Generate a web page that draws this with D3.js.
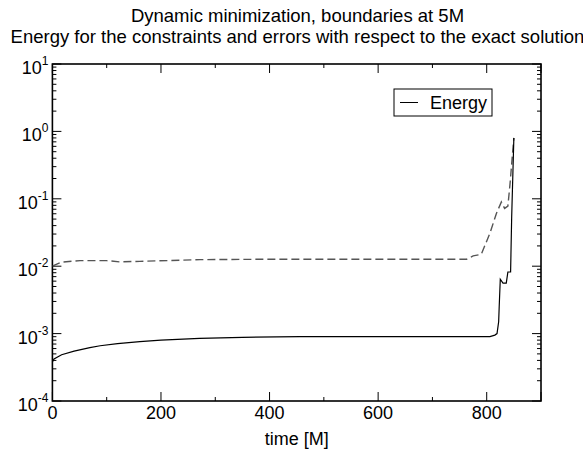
<!DOCTYPE html>
<html>
<head>
<meta charset="utf-8">
<script src="https://cdn.jsdelivr.net/npm/d3@7"></script>
<style>
  body { margin: 0; background: #fff; }
  svg { font-family: "Liberation Sans", Arial, sans-serif; }
</style>
</head>
<body>
<svg id="chart"></svg>
<script>
// Title lines
const titleLines = [
  "Dynamic minimization, boundaries at 5M",
  "Energy for the constraints and errors with respect to the exact solution"
];

// Energy for the constraints (solid)
const energyTime = [0, 3, 17, 40, 69, 88, 120, 161, 200, 271, 350, 456, 600, 700, 806, 815, 819, 822, 823, 825, 830, 836, 839, 844, 846, 850];
const energyValues = [3.8e-4, 4.2e-4, 4.86e-4, 5.5e-4, 6.2e-4, 6.6e-4, 7.1e-4, 7.6e-4, 8.0e-4, 8.5e-4, 8.8e-4, 9.0e-4, 9.0e-4, 9.0e-4, 9.0e-4, 9.5e-4, 1.0e-3, 1.5e-3, 2.5e-3, 6.4e-3, 5.6e-3, 5.6e-3, 8.2e-3, 8.2e-3, 0.054, 0.8];

// Error with respect to the exact solution (dashed)
const errorTime = [0, 5, 17, 51, 100, 124, 161, 272, 400, 600, 763, 775, 790, 806, 818, 827, 833, 839, 843, 847, 850];
const errorValues = [0.0100, 0.0105, 0.0115, 0.0121, 0.0121, 0.0116, 0.0118, 0.0125, 0.0127, 0.0127, 0.0127, 0.0142, 0.015, 0.031, 0.061, 0.090, 0.072, 0.078, 0.168, 0.415, 0.8];

// Axis ticks
const xMajor = [0, 200, 400, 600, 800];
const xMinor = [100, 300, 500, 700];
const yExponents = [1, 0, -1, -2, -3, -4];
const legendLabel = "Energy";
const xLabel = "time [M]";

const width = 583;
const height = 461;
const margin = { top: 64, right: 42, bottom: 60, left: 52.4 };
const innerW = width - margin.left - margin.right;
const innerH = height - margin.top - margin.bottom;

const svg = d3.select("#chart").attr("width", width).attr("height", height);

// Titles
svg.selectAll("text.title")
  .data(titleLines)
  .enter()
  .append("text")
  .attr("class", "title")
  .attr("x", width / 2 + 6)
  .attr("y", (d, i) => 22 + i * 21)
  .attr("text-anchor", "middle")
  .attr("font-size", 18.5)
  .text(d => d);

const g = svg.append("g").attr("transform", `translate(${margin.left},${margin.top})`);

const x = d3.scaleLinear().domain([0, 900]).range([0, innerW]);
const y = d3.scaleLog().domain([1e-4, 10]).range([innerH, 0]);

// Minor log ticks: 2..9 x 10^n
const yMinor = [];
for (let e = -4; e < 1; e++) {
  for (let m = 2; m <= 9; m++) yMinor.push(m * Math.pow(10, e));
}

// Tick marks on all four sides, pointing inward
const tickGroup = g.append("g").attr("stroke", "#000").attr("stroke-width", 1);
[[xMajor.concat([900]), 9], [xMinor, 4]].forEach(([vals, len]) => {
  vals.forEach(v => {
    tickGroup.append("line")
      .attr("x1", x(v)).attr("x2", x(v))
      .attr("y1", innerH).attr("y2", innerH - len);
    tickGroup.append("line")
      .attr("x1", x(v)).attr("x2", x(v))
      .attr("y1", 0).attr("y2", len);
  });
});
[[yExponents.map(e => Math.pow(10, e)), 9], [yMinor, 4]].forEach(([vals, len]) => {
  vals.forEach(v => {
    tickGroup.append("line")
      .attr("x1", 0).attr("x2", len)
      .attr("y1", y(v)).attr("y2", y(v));
    tickGroup.append("line")
      .attr("x1", innerW).attr("x2", innerW - len)
      .attr("y1", y(v)).attr("y2", y(v));
  });
});

// Frame
g.append("rect")
  .attr("width", innerW)
  .attr("height", innerH)
  .attr("fill", "none")
  .attr("stroke", "#000")
  .attr("stroke-width", 1.6);

// X tick labels
g.selectAll("text.xlab")
  .data(xMajor)
  .enter()
  .append("text")
  .attr("class", "xlab")
  .attr("x", d => x(d))
  .attr("y", innerH + 18)
  .attr("text-anchor", "middle")
  .attr("font-size", 18)
  .text(d => d);

// Y tick labels (10 with superscript exponent)
const yl = g.selectAll("text.ylab")
  .data(yExponents)
  .enter()
  .append("text")
  .attr("class", "ylab")
  .attr("x", -4)
  .attr("y", d => y(Math.pow(10, d)) + 10)
  .attr("text-anchor", "end")
  .attr("font-size", 18);
yl.append("tspan").text("10");
yl.append("tspan")
  .attr("font-size", 12)
  .attr("dy", -9)
  .text(d => d);

// X axis label
g.append("text")
  .attr("x", innerW / 2)
  .attr("y", innerH + 44)
  .attr("text-anchor", "middle")
  .attr("font-size", 18)
  .text(xLabel);

// Lines
const line = d3.line()
  .x(d => x(d[0]))
  .y(d => y(d[1]));

g.append("clipPath").attr("id", "clip")
  .append("rect").attr("width", innerW).attr("height", innerH);

g.append("path")
  .datum(errorTime.map((t, i) => [t, errorValues[i]]))
  .attr("clip-path", "url(#clip)")
  .attr("fill", "none")
  .attr("stroke", "#555")
  .attr("stroke-width", 1.4)
  .attr("stroke-dasharray", "8,4")
  .attr("d", line);

g.append("path")
  .datum(energyTime.map((t, i) => [t, energyValues[i]]))
  .attr("clip-path", "url(#clip)")
  .attr("fill", "none")
  .attr("stroke", "#000")
  .attr("stroke-width", 1.2)
  .attr("d", line);

// Legend
const legend = svg.append("g").attr("transform", "translate(394,89)");
legend.append("rect")
  .attr("width", 98)
  .attr("height", 27)
  .attr("fill", "#fff")
  .attr("stroke", "#000")
  .attr("stroke-width", 1);
legend.append("line")
  .attr("x1", 6).attr("x2", 24)
  .attr("y1", 13.5).attr("y2", 13.5)
  .attr("stroke", "#000")
  .attr("stroke-width", 1);
legend.append("text")
  .attr("x", 36)
  .attr("y", 20)
  .attr("font-size", 18)
  .text(legendLabel);
</script>
</body>
</html>
